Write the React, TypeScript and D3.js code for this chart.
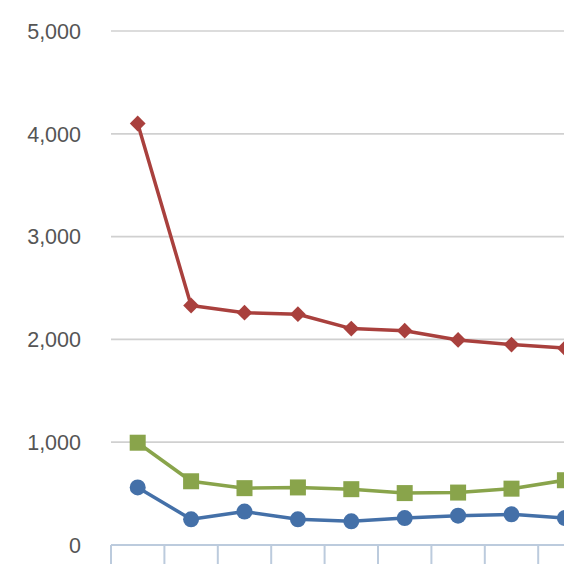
import * as d3 from "d3";
import { useEffect, useRef } from "react";

const categories = ["1", "2", "3", "4", "5", "6", "7", "8", "9"];
const redSeries = [4100, 2330, 2260, 2245, 2105, 2085, 1995, 1950, 1915];
const greenSeries = [995, 620, 553, 560, 543, 505, 510, 548, 630];
const blueSeries = [560, 250, 325, 250, 230, 262, 285, 298, 262];
const yTicks = [0, 1000, 2000, 3000, 4000, 5000];

export default function App() {
    const ref = useRef<SVGSVGElement | null>(null);

    useEffect(() => {
        if (!ref.current) return;
        const width = 564;
        const height = 564;
        const svg = d3.select(ref.current);
        svg.selectAll("*").remove();

        const step = 53.4;
        const x = d3.scaleBand<string>()
            .domain(categories)
            .range([111, 111 + step * categories.length])
            .paddingInner(0)
            .paddingOuter(0);

        const y = d3.scaleLinear().domain([0, 5000]).range([545, 31]);

        // grid lines
        svg.append("g")
            .selectAll("line")
            .data(yTicks.filter((t) => t > 0))
            .join("line")
            .attr("x1", 111)
            .attr("x2", width)
            .attr("y1", (d) => y(d))
            .attr("y2", (d) => y(d))
            .attr("stroke", "#d0d0d0")
            .attr("stroke-width", 1.7);

        // y labels
        svg.append("g")
            .selectAll("text")
            .data(yTicks)
            .join("text")
            .attr("x", 81)
            .attr("y", (d) => y(d))
            .attr("dy", "0.36em")
            .attr("text-anchor", "end")
            .attr("font-family", "'Liberation Sans', Arial, sans-serif")
            .attr("font-size", 21.5)
            .attr("fill", "#555555")
            .text((d) => d3.format(",")(d));

        // x axis line + ticks
        const axis = svg.append("g");
        axis.append("line")
            .attr("x1", 111)
            .attr("x2", width)
            .attr("y1", 545)
            .attr("y2", 545)
            .attr("stroke", "#bccbdd")
            .attr("stroke-width", 2);
        axis.selectAll("line.tick")
            .data(categories)
            .join("line")
            .attr("class", "tick")
            .attr("x1", (d) => x(d)!)
            .attr("x2", (d) => x(d)!)
            .attr("y1", 545)
            .attr("y2", height)
            .attr("stroke", "#bccbdd")
            .attr("stroke-width", 2);

        const cx = (i: number) => x(categories[i])! + x.bandwidth() / 2;
        const line = d3.line<number>()
            .x((_, i) => cx(i))
            .y((d) => y(d));

        const series = [
            { data: redSeries, color: "#a9403d", shape: "diamond" },
            { data: greenSeries, color: "#89a44b", shape: "square" },
            { data: blueSeries, color: "#4470a8", shape: "circle" },
        ];

        series.forEach((s) => {
            const g = svg.append("g");
            g.append("path")
                .attr("d", line(s.data))
                .attr("fill", "none")
                .attr("stroke", s.color)
                .attr("stroke-width", 3.5)
                .attr("stroke-linejoin", "round");
            if (s.shape === "circle") {
                g.selectAll("circle")
                    .data(s.data)
                    .join("circle")
                    .attr("cx", (_, i) => cx(i))
                    .attr("cy", (d) => y(d))
                    .attr("r", 8)
                    .attr("fill", s.color);
            } else if (s.shape === "square") {
                g.selectAll("rect")
                    .data(s.data)
                    .join("rect")
                    .attr("x", (_, i) => cx(i) - 8)
                    .attr("y", (d) => y(d) - 8)
                    .attr("width", 16)
                    .attr("height", 16)
                    .attr("fill", s.color);
            } else {
                g.selectAll("path.m")
                    .data(s.data)
                    .join("path")
                    .attr("class", "m")
                    .attr("d", d3.symbol(d3.symbolSquare, 125)()!)
                    .attr("transform", (d, i) => `translate(${cx(i)},${y(d)}) rotate(45)`)
                    .attr("fill", s.color);
            }
        });
    }, []);

    return (
        <div style={{ position: "fixed", left: 0, top: 0, background: "#fff" }}>
            <svg ref={ref} width={564} height={564} style={{ display: "block" }}></svg>
        </div>
    );
}
